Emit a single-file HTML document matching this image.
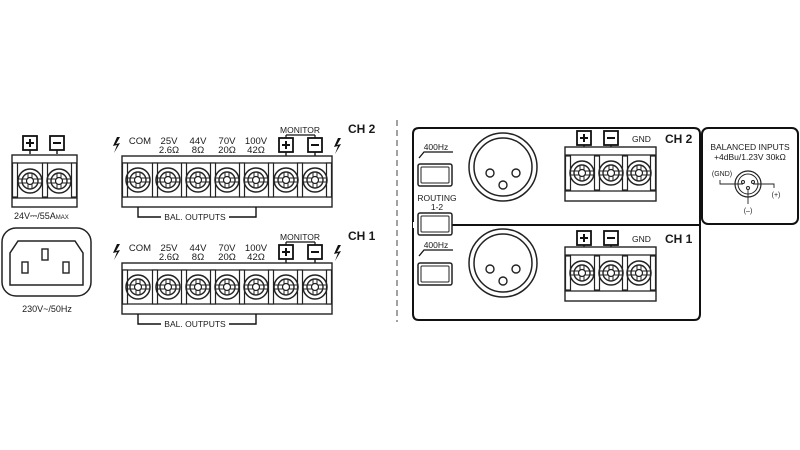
<!DOCTYPE html>
<html><head><meta charset="utf-8"><style>
html,body{margin:0;padding:0;background:#fff;}
svg{display:block;}
text{font-family:"Liberation Sans",sans-serif;fill:#1a1a1a;}
</style></head><body>
<svg width="800" height="450" viewBox="0 0 800 450" xmlns="http://www.w3.org/2000/svg">
<defs>
<g id="term">
  <circle cx="0" cy="0" r="12" fill="none" stroke="#222" stroke-width="1.5"/>
  <circle cx="0" cy="0" r="8" fill="none" stroke="#222" stroke-width="1.4"/>
  <line x1="-12" y1="-2" x2="12" y2="-2" stroke="#222" stroke-width="1"/>
  <line x1="-12" y1="2" x2="12" y2="2" stroke="#222" stroke-width="1"/>
  <line x1="-2" y1="-8" x2="-2" y2="8" stroke="#222" stroke-width="1"/>
  <line x1="2" y1="-8" x2="2" y2="8" stroke="#222" stroke-width="1"/>
  <circle cx="0" cy="0" r="3.5" fill="#fff" stroke="#222" stroke-width="1.2"/>
</g>
<g id="post">
  <rect x="-2.5" y="0" width="5" height="34" fill="#fff" stroke="#222" stroke-width="1.2"/>
</g>
<g id="plus">
  <rect x="0" y="0" width="14" height="14" fill="#fff" stroke="#111" stroke-width="1.8"/>
  <line x1="3" y1="7" x2="11" y2="7" stroke="#111" stroke-width="2"/>
  <line x1="7" y1="3" x2="7" y2="11" stroke="#111" stroke-width="2"/>
  <line x1="7" y1="14" x2="7" y2="18" stroke="#111" stroke-width="1.4"/>
</g>
<g id="minus">
  <rect x="0" y="0" width="14" height="14" fill="#fff" stroke="#111" stroke-width="1.8"/>
  <line x1="3" y1="7" x2="11" y2="7" stroke="#111" stroke-width="2"/>
  <line x1="7" y1="14" x2="7" y2="18" stroke="#111" stroke-width="1.4"/>
</g>
<path id="bolt" d="M5 0 L1 9 L5 8 L2 16 L8 6 L4 7 L8 0 Z" fill="#111"/>
<g id="block7">
  <rect x="0" y="0" width="210" height="51" fill="#fff" stroke="#222" stroke-width="1.4"/>
  <line x1="0" y1="7" x2="210" y2="7" stroke="#222" stroke-width="1.2"/>
  <line x1="0" y1="41" x2="210" y2="41" stroke="#222" stroke-width="1.2"/>
  <use href="#post" x="3" y="7"/><use href="#post" x="33" y="7"/><use href="#post" x="62" y="7"/>
  <use href="#post" x="91" y="7"/><use href="#post" x="120" y="7"/><use href="#post" x="149" y="7"/>
  <use href="#post" x="178" y="7"/><use href="#post" x="207" y="7"/>
  <use href="#term" x="16" y="24"/><use href="#term" x="46" y="24"/><use href="#term" x="76" y="24"/>
  <use href="#term" x="105" y="24"/><use href="#term" x="134" y="24"/><use href="#term" x="164" y="24"/>
  <use href="#term" x="193" y="24"/>
</g>
<g id="block3">
  <rect x="0" y="0" width="91" height="54" fill="#fff" stroke="#222" stroke-width="1.4"/>
  <line x1="0" y1="8" x2="91" y2="8" stroke="#222" stroke-width="1.2"/>
  <line x1="0" y1="44" x2="91" y2="44" stroke="#222" stroke-width="1.2"/>
  <use href="#post" x="3" y="9"/><use href="#post" x="32" y="9"/><use href="#post" x="60" y="9"/><use href="#post" x="88" y="9"/>
  <use href="#term" x="17" y="26"/><use href="#term" x="46" y="26"/><use href="#term" x="74" y="26"/>
</g>
<g id="chlabels">
  <use href="#bolt" x="112" y="0"/>
  <text x="140" y="7" font-size="9.5" text-anchor="middle">COM</text>
  <text x="169" y="7" font-size="9.5" text-anchor="middle">25V</text>
  <text x="169" y="16" font-size="9.5" text-anchor="middle">2.6Ω</text>
  <text x="198" y="7" font-size="9.5" text-anchor="middle">44V</text>
  <text x="198" y="16" font-size="9.5" text-anchor="middle">8Ω</text>
  <text x="227" y="7" font-size="9.5" text-anchor="middle">70V</text>
  <text x="227" y="16" font-size="9.5" text-anchor="middle">20Ω</text>
  <text x="256" y="7" font-size="9.5" text-anchor="middle">100V</text>
  <text x="256" y="16" font-size="9.5" text-anchor="middle">42Ω</text>
  <text x="300" y="-4" font-size="8.5" text-anchor="middle">MONITOR</text>
  <line x1="286" y1="-2" x2="315" y2="-2" stroke="#111" stroke-width="1.2"/>
  <line x1="286" y1="-2" x2="286" y2="1" stroke="#111" stroke-width="1.2"/>
  <line x1="315" y1="-2" x2="315" y2="1" stroke="#111" stroke-width="1.2"/>
  <use href="#plus" x="279" y="1"/>
  <use href="#minus" x="308" y="1"/>
  <use href="#bolt" x="333" y="1"/>
  <use href="#block7" x="122" y="19"/>
  <polyline points="138,70 138,80 161,80" fill="none" stroke="#111" stroke-width="1.4"/>
  <polyline points="229,80 256,80 256,70" fill="none" stroke="#111" stroke-width="1.4"/>
  <text x="195" y="83" font-size="8.5" text-anchor="middle">BAL. OUTPUTS</text>
</g>
<g id="xlr">
  <circle cx="0" cy="0" r="34" fill="#fff" stroke="#222" stroke-width="1.5"/>
  <circle cx="0" cy="0" r="29" fill="none" stroke="#222" stroke-width="1.5"/>
  <circle cx="-13" cy="6" r="4" fill="none" stroke="#222" stroke-width="1.4"/>
  <circle cx="13" cy="6" r="4" fill="none" stroke="#222" stroke-width="1.4"/>
  <circle cx="0" cy="18" r="4" fill="none" stroke="#222" stroke-width="1.4"/>
</g>
<g id="hz">
  <text x="436" y="0" font-size="8.5" text-anchor="middle">400Hz</text>
  <polyline points="419,8 424,2 453,2" fill="none" stroke="#111" stroke-width="1.3"/>
</g>
<g id="btn">
  <rect x="0" y="0" width="34" height="22" rx="2" fill="#fff" stroke="#222" stroke-width="1.5"/>
  <rect x="3" y="3" width="28" height="16" rx="1" fill="none" stroke="#222" stroke-width="1"/>
</g>
</defs>

<use href="#plus" x="23" y="136"/>
<use href="#minus" x="50" y="136"/>
<rect x="12" y="155" width="65" height="52" fill="#fff" stroke="#222" stroke-width="1.4"/>
<line x1="12" y1="163" x2="77" y2="163" stroke="#222" stroke-width="1.2"/>
<line x1="12" y1="198" x2="77" y2="198" stroke="#222" stroke-width="1.2"/>
<use href="#post" x="15" y="163"/><use href="#post" x="45" y="163"/><use href="#post" x="74" y="163"/>
<use href="#term" x="30" y="181"/><use href="#term" x="59" y="181"/>
<text x="14" y="219" font-size="9">24V⎓/55A<tspan font-size="6">MAX</tspan></text>

<rect x="2" y="228" width="89" height="68" rx="14" fill="#fff" stroke="#222" stroke-width="1.5"/>
<path d="M18 241 L75 241 L83 253 L83 285 L10 285 L10 253 Z" fill="none" stroke="#222" stroke-width="1.5"/>
<rect x="42" y="249" width="6" height="11" fill="none" stroke="#222" stroke-width="1.4"/>
<rect x="22" y="262" width="6" height="11" fill="none" stroke="#222" stroke-width="1.4"/>
<rect x="63" y="262" width="6" height="11" fill="none" stroke="#222" stroke-width="1.4"/>
<text x="47" y="312" font-size="9" text-anchor="middle">230V~/50Hz</text>

<use href="#chlabels" x="0" y="137"/>
<text x="348" y="133" font-size="12" font-weight="bold">CH 2</text>
<use href="#chlabels" x="0" y="244"/>
<text x="348" y="240" font-size="12" font-weight="bold">CH 1</text>

<line x1="397" y1="120" x2="397" y2="322" stroke="#444" stroke-width="1" stroke-dasharray="6,4"/>

<path d="M413 225 L413 134 Q413 128 419 128 L694 128 Q700 128 700 134 L700 225" fill="none" stroke="#111" stroke-width="2"/>
<path d="M413 225 L413 314 Q413 320 419 320 L694 320 Q700 320 700 314 L700 225 Z" fill="none" stroke="#111" stroke-width="2"/>
<rect x="702" y="128" width="96" height="96" rx="6" fill="#fff" stroke="#111" stroke-width="2"/>

<use href="#hz" x="0" y="150"/>
<use href="#btn" x="418" y="164"/>
<text x="437" y="201" font-size="8.5" text-anchor="middle">ROUTING</text>
<text x="437" y="210" font-size="8.5" text-anchor="middle">1-2</text>
<rect x="413" y="222" width="5" height="6" fill="#fff"/>
<use href="#btn" x="418" y="213"/>
<use href="#hz" x="0" y="248"/>
<use href="#btn" x="418" y="263"/>

<use href="#xlr" x="503" y="167"/>
<use href="#xlr" x="503" y="263"/>

<use href="#plus" x="577" y="131"/>
<use href="#minus" x="604" y="131"/>
<text x="632" y="142" font-size="8.5">GND</text>
<text x="665" y="143" font-size="12" font-weight="bold">CH 2</text>
<use href="#block3" x="565" y="147"/>

<use href="#plus" x="577" y="231"/>
<use href="#minus" x="604" y="231"/>
<text x="632" y="242" font-size="8.5">GND</text>
<text x="665" y="243" font-size="12" font-weight="bold">CH 1</text>
<use href="#block3" x="565" y="247"/>

<text x="750" y="150" font-size="8.5" text-anchor="middle">BALANCED INPUTS</text>
<text x="750" y="160" font-size="8.5" text-anchor="middle">+4dBu/1.23V 30kΩ</text>
<circle cx="748" cy="184" r="13" fill="none" stroke="#222" stroke-width="1.2"/>
<circle cx="748" cy="184" r="10" fill="none" stroke="#222" stroke-width="1"/>
<circle cx="743" cy="182" r="1.5" fill="none" stroke="#222"/>
<circle cx="753" cy="182" r="1.5" fill="none" stroke="#222"/>
<circle cx="748" cy="188" r="1.5" fill="none" stroke="#222"/>
<polyline points="720,180 720,184 743,184" fill="none" stroke="#222" stroke-width="0.9"/>
<polyline points="753,184 774,184 774,188" fill="none" stroke="#222" stroke-width="0.9"/>
<line x1="748" y1="190" x2="748" y2="204" stroke="#222" stroke-width="0.9"/>
<text x="722" y="176" font-size="7" text-anchor="middle">(GND)</text>
<text x="776" y="197" font-size="7" text-anchor="middle">(+)</text>
<text x="748" y="213" font-size="7" text-anchor="middle">(–)</text>
</svg>
</body></html>
